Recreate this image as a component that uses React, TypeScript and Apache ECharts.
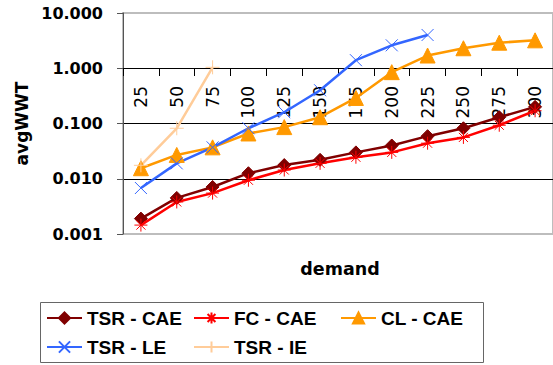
import React, { useEffect, useRef } from "react";
import * as echarts from "echarts";

const categories = ["25", "50", "75", "100", "125", "150", "175", "200", "225", "250", "275", "300"];
const tsrCae = [0.0019, 0.0045, 0.0071, 0.0126, 0.0177, 0.022, 0.03, 0.04, 0.059, 0.082, 0.13, 0.2];
const fcCae = [0.00145, 0.0038, 0.0055, 0.0094, 0.0144, 0.019, 0.0245, 0.03, 0.044, 0.056, 0.093, 0.17];
const clCae = [0.0155, 0.027, 0.037, 0.066, 0.086, 0.13, 0.29, 0.85, 1.7, 2.3, 2.9, 3.2];
const tsrLe = [0.0068, 0.019, 0.037, 0.082, 0.16, 0.4, 1.4, 2.6, 4.0];
const tsrIe = [0.0175, 0.082, 1.04];
const legendNames = ["TSR - CAE", "FC - CAE", "CL - CAE", "TSR - LE", "TSR - IE"];
const legendColumns = [
  [legendNames[0], legendNames[3]],
  [legendNames[1], legendNames[4]],
  [legendNames[2]],
];

const FONT = "Liberation Sans, Arial, sans-serif";
const DJ = "DejaVu Sans, sans-serif";
const ASTER = "path://M0,-10L0,10M-10,0L10,0M-7,-7L7,7M-7,7L7,-7";
const XMARK = "path://M-10,-10L10,10M-10,10L10,-10";
const PLUS = "path://M0,-10L0,10M-10,0L10,0";

export default function App() {
  const ref = useRef<HTMLDivElement>(null);
  useEffect(() => {
    if (!ref.current) return;
    const chart = echarts.init(ref.current, null, { renderer: "svg" });
    const mk = (name: string, data: number[], color: string, symbol: string, size: number) => ({
      name,
      type: "line",
      data,
      symbol,
      symbolSize: size,
      showSymbol: true,
      lineStyle: { color, width: 2.5 },
      itemStyle: { color, borderColor: color, borderWidth: 1 },
      emphasis: { disabled: true },
    });
    const legendLefts = [46, 193, 340];
    const legends = legendColumns.map((names, i) => ({
      left: legendLefts[i],
      top: 308.5,
      orient: "vertical",
      padding: 0,
      itemWidth: 35,
      itemHeight: 14,
      itemGap: 10,
      selectedMode: false,
      textStyle: { fontSize: 19, lineHeight: 19, fontWeight: "bold", color: "#000", fontFamily: FONT },
      data: names,
    }));
    chart.setOption({
      animation: false,
      textStyle: { fontFamily: FONT },
      grid: { left: 123, right: -2, top: 13, bottom: 131, show: true, borderColor: "#bdbdbd", borderWidth: 2, backgroundColor: "transparent" },
      xAxis: {
        type: "category",
        data: categories,
        position: "bottom",
        offset: -166,
        boundaryGap: true,
        axisLine: { show: true, lineStyle: { color: "#000", width: 1 } },
        axisTick: { show: true, length: 8, inside: false, lineStyle: { color: "#000" }, alignWithLabel: false },
        axisLabel: { rotate: 90, margin: 18, fontSize: 17, color: "#000", fontFamily: DJ, interval: 0 },
        splitLine: { show: false },
      },
      yAxis: {
        type: "log",
        logBase: 10,
        min: 0.001,
        max: 10,
        name: "avgWWT",
        nameLocation: "middle",
        nameGap: 90,
        nameTextStyle: { fontSize: 17, fontWeight: "bold", color: "#000", fontFamily: DJ },
        axisLine: { show: true, lineStyle: { color: "#555", width: 1 } },
        axisTick: { show: true, length: 6, lineStyle: { color: "#555" } },
        axisLabel: {
          margin: 20,
          fontSize: 16,
          fontWeight: "bold",
          color: "#000",
          fontFamily: DJ,
          formatter: (v: number) => v.toFixed(3),
        },
        splitLine: { show: true, showMinLine: false, showMaxLine: false, lineStyle: { color: "#000", width: 1 } },
      },
      legend: legends,
      graphic: [
        {
          type: "rect",
          shape: { x: 40.5, y: 302.5, width: 443, height: 60 },
          style: { fill: "none", stroke: "#666", lineWidth: 1 },
          silent: true,
        },
        {
          type: "text",
          x: 340,
          y: 269,
          style: { text: "demand", fontSize: 17.5, fontWeight: "bold", fill: "#000", fontFamily: DJ, align: "center", verticalAlign: "middle" },
        },
      ],
      series: [
        mk(legendNames[0], tsrCae, "#800000", "diamond", 13),
        mk(legendNames[1], fcCae, "#FF0000", ASTER, 13),
        mk(legendNames[2], clCae, "#FF9900", "triangle", 15),
        mk(legendNames[3], tsrLe, "#3366FF", XMARK, 12),
        mk(legendNames[4], tsrIe, "#FFCC99", PLUS, 14),
      ],
    });
    return () => chart.dispose();
  }, []);
  return <div ref={ref} style={{ width: 553, height: 365, position: "absolute", left: 0, top: 0 }} />;
}
